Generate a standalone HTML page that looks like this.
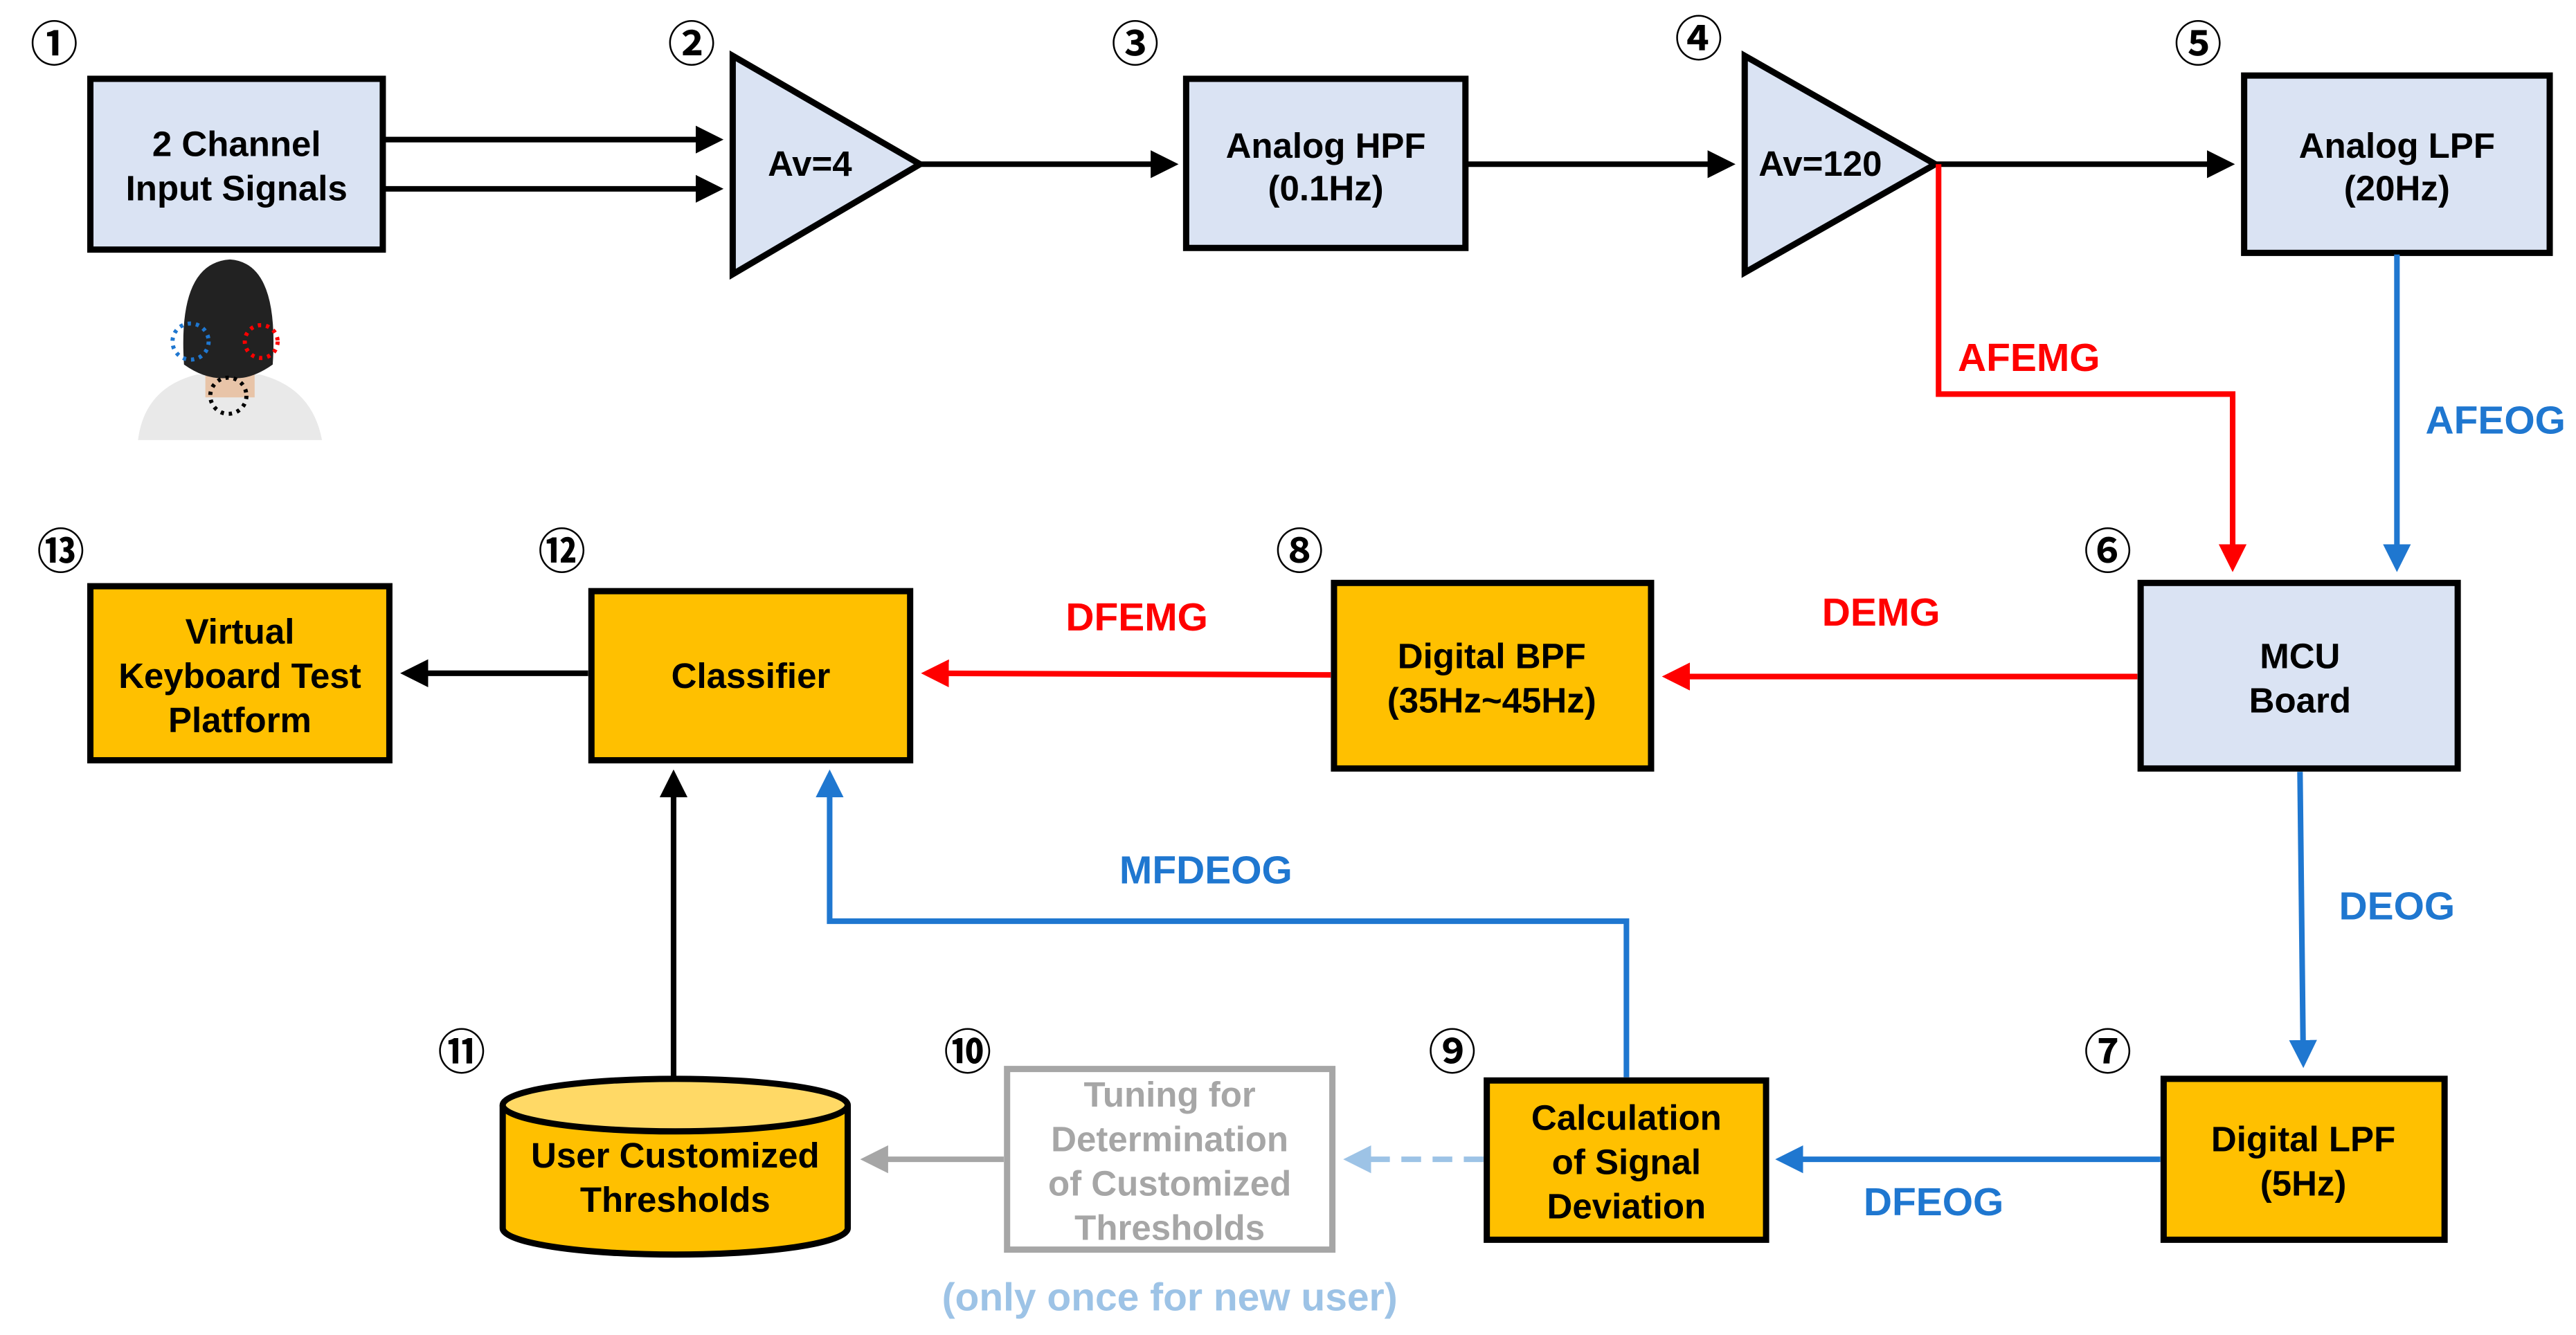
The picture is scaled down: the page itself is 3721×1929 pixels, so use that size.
<!DOCTYPE html>
<html><head><meta charset="utf-8"><style>
html,body{margin:0;padding:0;background:#fff;}
svg{display:block;}
text{font-family:"Liberation Sans","Noto Sans CJK KR",sans-serif;font-weight:bold;}
.n{font-family:"Noto Sans CJK KR","DejaVu Sans",sans-serif;font-size:29px;font-weight:bold;}
</style></head><body>
<svg width="3721" height="1929" viewBox="0 0 1568 813" preserveAspectRatio="none" xmlns="http://www.w3.org/2000/svg">
<defs>
<marker id="ak" markerWidth="5" markerHeight="5" refX="4" refY="2.5" orient="auto" markerUnits="strokeWidth"><path d="M0,0 L5,2.5 L0,5 z" fill="#000"/></marker>
<marker id="ar" markerWidth="5" markerHeight="5" refX="4" refY="2.5" orient="auto" markerUnits="strokeWidth"><path d="M0,0 L5,2.5 L0,5 z" fill="#ff0000"/></marker>
<marker id="ab" markerWidth="5" markerHeight="5" refX="4" refY="2.5" orient="auto" markerUnits="strokeWidth"><path d="M0,0 L5,2.5 L0,5 z" fill="#1f77d0"/></marker>
<marker id="al" markerWidth="5" markerHeight="5" refX="4" refY="2.5" orient="auto" markerUnits="strokeWidth"><path d="M0,0 L5,2.5 L0,5 z" fill="#9dc3e6"/></marker>
<marker id="ag" markerWidth="5" markerHeight="5" refX="4" refY="2.5" orient="auto" markerUnits="strokeWidth"><path d="M0,0 L5,2.5 L0,5 z" fill="#a6a6a6"/></marker>
</defs>
<g stroke="#000" stroke-width="3.8">
<rect x="55" y="48" width="178" height="104" fill="#dae3f3"/>
<polygon points="446,34 560,100 446,167" fill="#dae3f3"/>
<rect x="722" y="48" width="170" height="103" fill="#dae3f3"/>
<polygon points="1062,34 1178,100 1062,166" fill="#dae3f3"/>
<rect x="1366" y="46" width="186" height="108" fill="#dae3f3"/>
<rect x="1303" y="355" width="193" height="113" fill="#dae3f3"/>
<rect x="812" y="355" width="193" height="113" fill="#ffc000"/>
<rect x="360" y="360" width="194" height="103" fill="#ffc000"/>
<rect x="55" y="357" width="182" height="106" fill="#ffc000"/>
<rect x="1317" y="657" width="171" height="98" fill="#ffc000"/>
<rect x="905" y="658" width="170" height="97" fill="#ffc000"/>
<path d="M306,673 L306,748 A105,16 0 0 0 516,748 L516,673" fill="#ffc000"/>
<ellipse cx="411" cy="673" rx="105" ry="16" fill="#ffd966"/>
</g>
<rect x="613" y="651" width="198" height="110" fill="#fff" stroke="#a6a6a6" stroke-width="3.8"/>
<g fill="none" stroke-width="3.4">
<line x1="233" y1="85" x2="437" y2="85" stroke="#000" marker-end="url(#ak)"/>
<line x1="233" y1="115" x2="437" y2="115" stroke="#000" marker-end="url(#ak)"/>
<line x1="560" y1="100" x2="714" y2="100" stroke="#000" marker-end="url(#ak)"/>
<line x1="892" y1="100" x2="1053" y2="100" stroke="#000" marker-end="url(#ak)"/>
<line x1="1178" y1="100" x2="1357" y2="100" stroke="#000" marker-end="url(#ak)"/>
<polyline points="1180,100 1180,240 1359,240 1359,345" stroke="#ff0000" marker-end="url(#ar)"/>
<line x1="1459" y1="155" x2="1459" y2="345" stroke="#1f77d0" marker-end="url(#ab)"/>
<line x1="1301" y1="412" x2="1015" y2="412" stroke="#ff0000" marker-end="url(#ar)"/>
<line x1="810" y1="411" x2="564" y2="410" stroke="#ff0000" marker-end="url(#ar)"/>
<line x1="358" y1="410" x2="247" y2="410" stroke="#000" marker-end="url(#ak)"/>
<line x1="1400" y1="470" x2="1402" y2="647" stroke="#1f77d0" marker-end="url(#ab)"/>
<line x1="1315" y1="706" x2="1084" y2="706" stroke="#1f77d0" marker-end="url(#ab)"/>
<polyline points="990,656 990,561 505,561 505,472" stroke="#1f77d0" marker-end="url(#ab)"/>
<line x1="903" y1="706" x2="821" y2="706" stroke="#9dc3e6" stroke-dasharray="12,7" marker-end="url(#al)"/>
<line x1="611" y1="706" x2="527" y2="706" stroke="#a6a6a6" marker-end="url(#ag)"/>
<line x1="410" y1="656" x2="410" y2="472" stroke="#000" marker-end="url(#ak)"/>
</g>
<g>
<path d="M84,268 Q88,236 120,228 L158,228 Q190,236 196,268 Z" fill="#e9e9e9"/>
<rect x="125" y="212" width="30" height="30" fill="#e8c4a8"/>
<path d="M112,222 Q108,160 140,158 Q170,160 166,222 Q152,232 140,230 Q126,232 112,222 Z" fill="#222"/>
<circle cx="116" cy="208" r="11" fill="none" stroke="#1f77d0" stroke-width="2.5" stroke-dasharray="2,3"/>
<circle cx="159" cy="208" r="10" fill="none" stroke="#ff0000" stroke-width="2.5" stroke-dasharray="2,3"/>
<circle cx="139" cy="241" r="11" fill="none" stroke="#000" stroke-width="2.5" stroke-dasharray="2,3"/>
</g>
<g text-anchor="middle" fill="#000">
<text x="33" y="37" class="n">①</text>
<text x="421" y="37" class="n">②</text>
<text x="691" y="37" class="n">③</text>
<text x="1034" y="34" class="n">④</text>
<text x="1338" y="37" class="n">⑤</text>
<text x="1283" y="346" class="n">⑥</text>
<text x="791" y="346" class="n">⑧</text>
<text x="342" y="346" class="n">⑫</text>
<text x="37" y="346" class="n">⑬</text>
<text x="1283" y="651" class="n">⑦</text>
<text x="884" y="651" class="n">⑨</text>
<text x="589" y="651" class="n">⑩</text>
<text x="281" y="651" class="n">⑪</text>
</g>
<g font-size="21.5" text-anchor="middle" fill="#000">
<text x="144" y="95">2 Channel</text><text x="144" y="122">Input Signals</text>
<text x="493" y="107">Av=4</text>
<text x="807" y="96">Analog HPF</text><text x="807" y="122">(0.1Hz)</text>
<text x="1108" y="107">Av=120</text>
<text x="1459" y="96">Analog LPF</text><text x="1459" y="122">(20Hz)</text>
<text x="1400" y="407">MCU</text><text x="1400" y="434">Board</text>
<text x="908" y="407">Digital BPF</text><text x="908" y="434">(35Hz~45Hz)</text>
<text x="457" y="419">Classifier</text>
<text x="146" y="392">Virtual</text><text x="146" y="419">Keyboard Test</text><text x="146" y="446">Platform</text>
<text x="1402" y="701">Digital LPF</text><text x="1402" y="728">(5Hz)</text>
<text x="990" y="688">Calculation</text><text x="990" y="715">of Signal</text><text x="990" y="742">Deviation</text>
<text x="411" y="711">User Customized</text><text x="411" y="738">Thresholds</text>
<g fill="#a6a6a6"><text x="712" y="674">Tuning for</text><text x="712" y="701">Determination</text><text x="712" y="728">of  Customized</text><text x="712" y="755">Thresholds</text></g>
</g>
<g font-size="24" text-anchor="middle">
<text x="1235" y="226" fill="#ff0000">AFEMG</text>
<text x="1519" y="264" fill="#1f77d0">AFEOG</text>
<text x="1145" y="381" fill="#ff0000">DEMG</text>
<text x="692" y="384" fill="#ff0000">DFEMG</text>
<text x="1459" y="560" fill="#1f77d0">DEOG</text>
<text x="734" y="538" fill="#1f77d0">MFDEOG</text>
<text x="1177" y="740" fill="#1f77d0">DFEOG</text>
<text x="712" y="798" fill="#9dc3e6">(only once for new user)</text>
</g>
</svg>
</body></html>
